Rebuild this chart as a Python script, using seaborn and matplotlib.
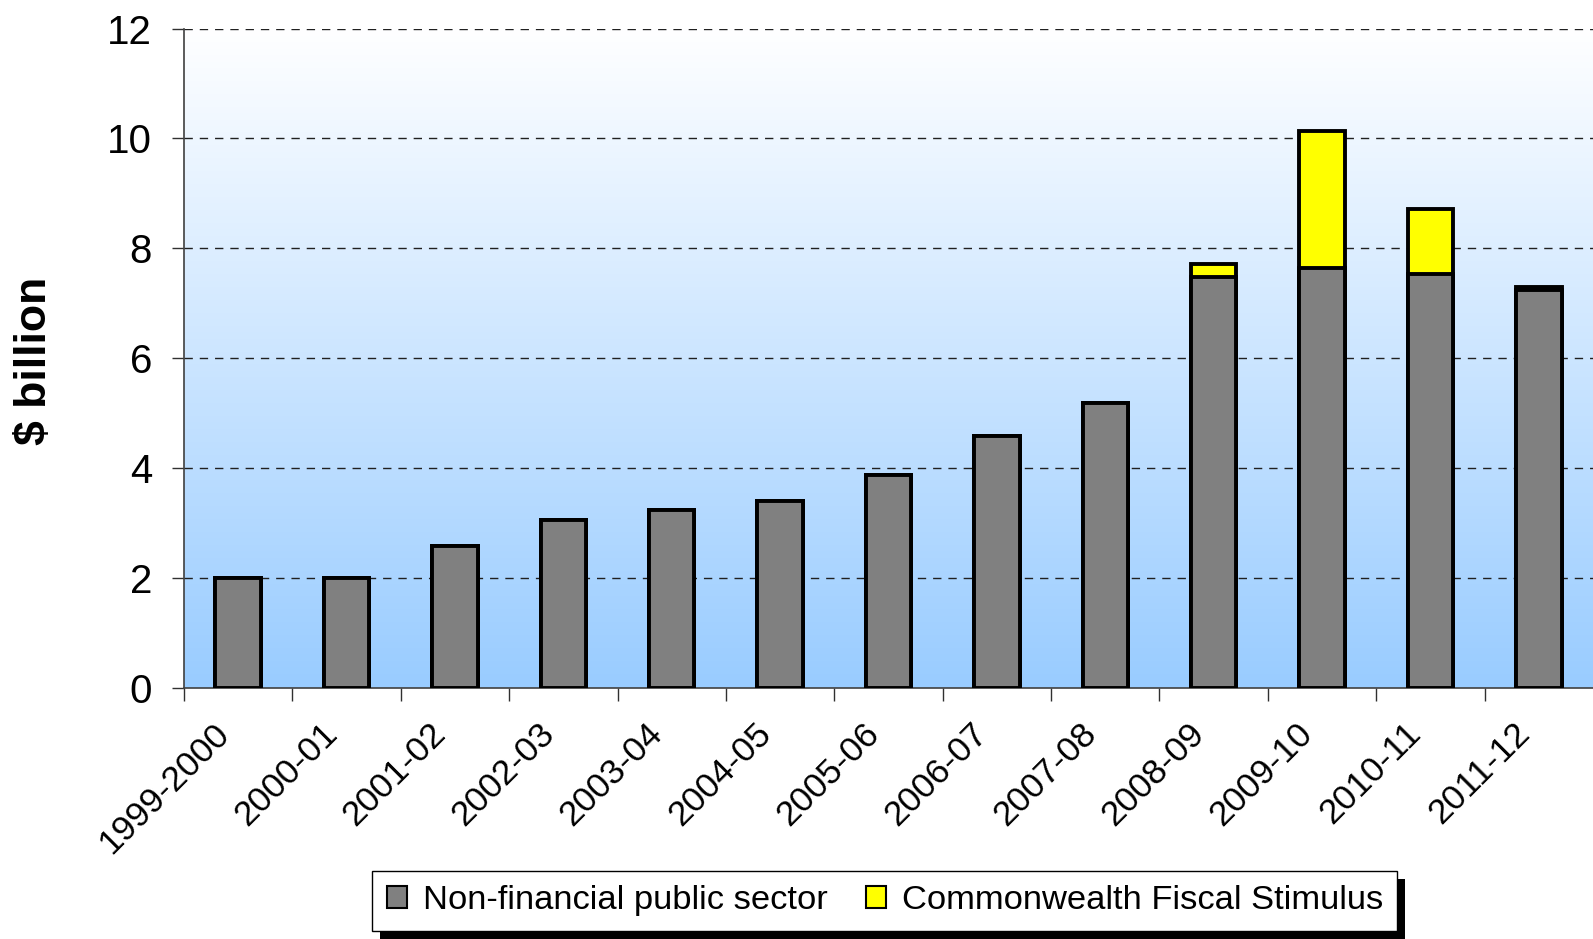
import numpy as np
import pandas as pd
import matplotlib
matplotlib.use("Agg")
import matplotlib.pyplot as plt
import matplotlib.transforms as mtrans
import seaborn as sns
from matplotlib.patches import Patch, Rectangle

years = ["1999-2000", "2000-01", "2001-02", "2002-03", "2003-04", "2004-05",
         "2005-06", "2006-07", "2007-08", "2008-09", "2009-10", "2010-11", "2011-12"]
nfps = [2.0, 2.0, 2.59, 3.05, 3.24, 3.40, 3.88, 4.59, 5.18, 7.48, 7.65, 7.53, 7.25]
stimulus = [0, 0, 0, 0, 0, 0, 0, 0, 0, 0.24, 2.49, 1.18, 0.05]
y_ticks = [0, 2, 4, 6, 8, 10, 12]

sns.set_theme(style="white")
plt.rcParams['font.family'] = ['Liberation Sans', 'DejaVu Sans']
plt.rcParams['text.color'] = 'black'

df = pd.DataFrame({"year": years, "nfps": nfps, "stim": stimulus})
df["total"] = df["nfps"] + df["stim"]

fig = plt.figure(figsize=(15.93, 9.39), dpi=100)
ax = fig.add_axes([0.1155, 0.2673, 0.8845, 0.7023])

# gradient background
grad = np.linspace(0, 1, 256).reshape(-1, 1)
top = np.array([1.0, 1.0, 1.0])
bot = np.array([153, 204, 255]) / 255
img = top[None, None, :] * (1 - grad[:, :, None]) + bot[None, None, :] * grad[:, :, None]
ax.imshow(img, extent=[0, 1, 0, 1], transform=ax.transAxes, aspect='auto', zorder=0)

for y in y_ticks[1:]:
    ax.axhline(y, color='#202020', lw=1.0, ls=(0, (6, 5)), zorder=1)

sns.barplot(data=df, x="year", y="total", color="#FFFF00", saturation=1,
            width=0.42, edgecolor="black", linewidth=2.8, ax=ax, zorder=2)
sns.barplot(data=df, x="year", y="nfps", color="#808080", saturation=1,
            width=0.42, edgecolor="black", linewidth=2.8, ax=ax, zorder=3)

ax.set_xlim(-0.5, 12.5)
ax.set_ylim(0, 12)
ax.set_yticks(y_ticks)
ax.set_yticklabels([str(v) for v in y_ticks], fontsize=29, color='black')

# category ticks at boundaries, labels at category centres
ax.set_xticks(np.arange(-0.5, 12.5, 1))
ax.set_xticklabels([])
ax.tick_params(axis='x', which='major', length=9, width=1, color='#303030',
               direction='out', bottom=True)
lab_trans = (mtrans.blended_transform_factory(ax.transData, ax.transAxes)
             + mtrans.ScaledTranslation(-0.26, -0.29, fig.dpi_scale_trans))
for i, lab in enumerate(years):
    ax.text(i, 0, lab, transform=lab_trans, fontsize=25.5, rotation=45,
            ha='right', va='top', rotation_mode='anchor', color='black')

ax.tick_params(axis='y', which='major', length=9, width=1, color='#303030',
               direction='out', left=True, pad=14)
ax.set_xlabel("")
ax.set_ylabel("")
fig.text(34 / 1568, 1 - 355 / 924, "$ billion", rotation=90, ha='center', va='center',
         fontsize=32, fontweight='bold', color='black')

for s in ['top', 'right']:
    ax.spines[s].set_visible(False)
for s in ['left', 'bottom']:
    ax.spines[s].set_color('#404040')
    ax.spines[s].set_linewidth(1.2)

handles = [Patch(facecolor="#808080", edgecolor="black", lw=1.5),
           Patch(facecolor="#FFFF00", edgecolor="black", lw=1.5)]
leg = fig.legend(handles, ["Non-financial public sector", "Commonwealth Fiscal Stimulus"],
                 loc='center', bbox_to_anchor=(0.5555, 0.0405), ncol=2, fontsize=24.8,
                 frameon=True, fancybox=False, edgecolor='black', framealpha=1,
                 handlelength=0.6, handleheight=0.6, handletextpad=0.45,
                 columnspacing=1.1, borderpad=0.42, borderaxespad=0)
leg.get_frame().set_linewidth(1.0)

fig.canvas.draw()
bb = leg.get_window_extent().transformed(fig.transFigure.inverted())
dx, dy = 8 / 1593, 8 / 939
fig.patches.append(Rectangle((bb.x0 + dx, bb.y0 - dy), bb.width, bb.height,
                             transform=fig.transFigure, facecolor='black',
                             edgecolor='none', zorder=1))

fig.savefig("out.png", dpi=100)
